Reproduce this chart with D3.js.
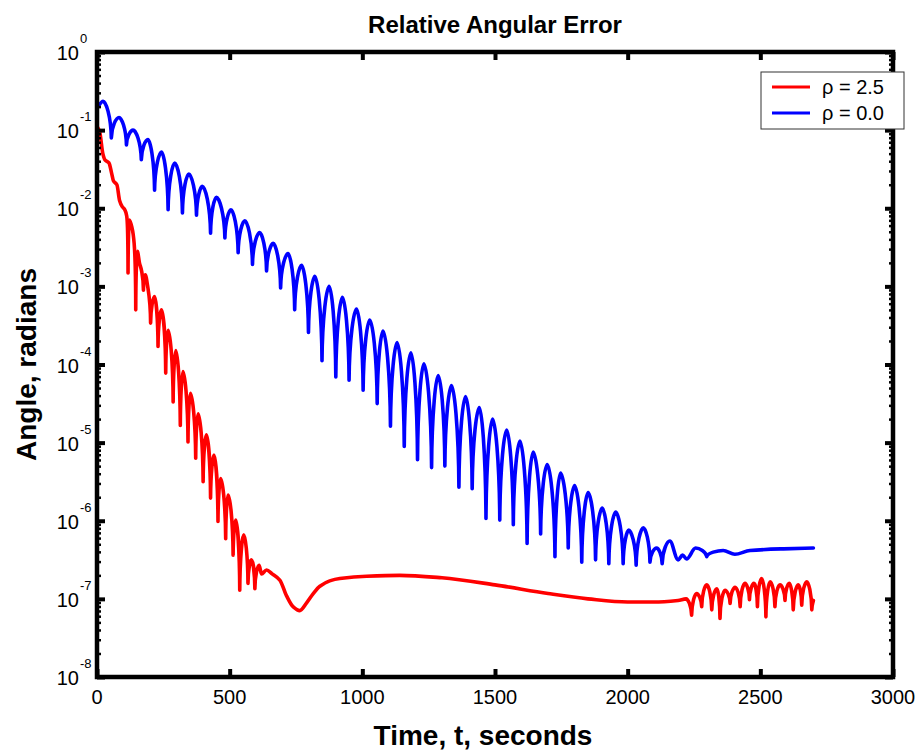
<!DOCTYPE html>
<html>
<head>
<meta charset="utf-8">
<script src="https://cdn.jsdelivr.net/npm/d3@7"></script>
<style>
body { margin: 0; background: #fff; }
text { font-family: Arial, "Liberation Sans", sans-serif; fill: #000; }
</style>
</head>
<body>
<svg id="chart" width="921" height="752"></svg>
<script>
// values
var timeTicks = [0, 500, 1000, 1500, 2000, 2500, 3000];
var decades = [1e-8, 1e-7, 1e-6, 1e-5, 1e-4, 1e-3, 1e-2, 1e-1, 1];
var seriesNames = ["\u03c1 = 2.5", "\u03c1 = 0.0"];
var seriesColors = ["#ff0000", "#0000ff"];

// rho = 2.5
var redT = [0, 10, 22, 30, 45, 55, 62, 75, 85, 95, 105, 112, 117, 122, 132, 140, 146, 152, 160, 168,
  175, 182, 190, 202, 217, 230, 243, 259, 268, 287, 297, 314, 324, 343, 352, 372, 381, 400, 412, 428,
  441, 456, 466, 485, 494, 513, 523, 538, 553, 569, 582, 595, 611, 620, 639, 660, 689, 714, 739, 764,
  790, 815, 840, 877, 915, 1016, 1141, 1300, 1500, 1700, 1850, 2000, 2100, 2190, 2220, 2241, 2260, 2279, 2298, 2317,
  2336, 2348, 2367, 2386, 2405, 2424, 2442, 2459, 2476, 2489, 2505, 2521, 2537, 2555, 2574, 2593, 2609, 2624, 2643, 2656,
  2675, 2694, 2700];
var redV = [1.12e-1, 9.55e-2, 5.01e-2, 4.17e-2, 3.80e-2, 2.82e-2, 2.24e-2, 2.00e-2, 1.26e-2, 1.05e-2, 9.55e-3, 7.94e-3, 1.48e-3, 7.08e-3, 5.62e-3, 3.55e-3, 5.01e-4, 2.82e-3, 2.00e-3, 1.58e-3,
  8.91e-4, 1.41e-3, 1.05e-3, 3.39e-4, 7.41e-4, 1.70e-4, 5.01e-4, 7.76e-5, 2.75e-4, 3.31e-5, 1.51e-4, 1.66e-5, 8.13e-5, 1.02e-5, 4.27e-5, 6.31e-6, 2.34e-5, 3.16e-6, 1.26e-5, 1.95e-6,
  6.92e-6, 9.77e-7, 3.47e-6, 5.89e-7, 2.14e-6, 3.63e-7, 1.02e-6, 1.29e-7, 6.61e-7, 1.58e-7, 3.16e-7, 1.35e-7, 2.69e-7, 2.09e-7, 2.34e-7, 2.09e-7, 1.74e-7, 1.10e-7, 7.94e-8, 7.08e-8,
  8.91e-8, 1.17e-7, 1.45e-7, 1.70e-7, 1.82e-7, 1.95e-7, 2.00e-7, 1.86e-7, 1.51e-7, 1.17e-7, 1.00e-7, 9.12e-8, 9.12e-8, 9.55e-8, 1.00e-7, 6.17e-8, 1.17e-7, 7.94e-8, 1.51e-7, 7.24e-8,
  1.35e-7, 5.62e-8, 1.29e-7, 8.71e-8, 1.41e-7, 7.94e-8, 1.58e-7, 9.77e-8, 1.58e-7, 7.94e-8, 1.82e-7, 5.89e-8, 1.66e-7, 7.94e-8, 1.51e-7, 9.55e-8, 1.58e-7, 7.24e-8, 1.51e-7, 8.32e-8,
  1.66e-7, 7.24e-8, 9.55e-8];

// rho = 0.0
var blueT = [0, 23, 54, 83, 111, 136, 167, 192, 217, 243, 268, 293, 322, 346, 375, 397, 428, 450, 482, 505,
  532, 557, 586, 613, 639, 664, 692, 720, 745, 771, 797, 821, 848, 875, 900, 925, 950, 978, 1003, 1028,
  1056, 1078, 1106, 1131, 1158, 1183, 1208, 1232, 1261, 1286, 1311, 1336, 1364, 1389, 1414, 1441, 1466, 1491, 1518, 1544,
  1569, 1594, 1621, 1644, 1672, 1697, 1726, 1747, 1776, 1800, 1827, 1851, 1879, 1904, 1929, 1955, 1983, 2004, 2032, 2059,
  2084, 2109, 2130, 2159, 2190, 2207, 2222, 2256, 2298, 2360, 2404, 2461, 2587, 2700];
var blueV = [1.91e-1, 2.34e-1, 7.94e-2, 1.45e-1, 6.46e-2, 1.00e-1, 4.17e-2, 7.59e-2, 1.70e-2, 5.25e-2, 9.55e-3, 3.80e-2, 8.71e-3, 2.75e-2, 8.13e-3, 1.91e-2, 4.79e-3, 1.38e-2, 4.17e-3, 9.55e-3,
  2.69e-3, 6.92e-3, 1.91e-3, 4.90e-3, 1.58e-3, 3.55e-3, 9.55e-4, 2.63e-3, 5.01e-4, 1.86e-3, 2.57e-4, 1.35e-3, 1.12e-4, 1.00e-3, 6.92e-5, 7.24e-4, 6.31e-5, 5.13e-4, 4.68e-5, 3.72e-4,
  3.16e-5, 2.69e-4, 1.62e-5, 1.91e-4, 8.91e-6, 1.41e-4, 6.03e-6, 1.02e-4, 4.79e-6, 7.24e-5, 5.01e-6, 5.37e-5, 2.69e-6, 3.89e-5, 2.57e-6, 2.82e-5, 1.07e-6, 2.00e-5, 1.02e-6, 1.45e-5,
  8.91e-7, 1.05e-5, 5.13e-7, 7.59e-6, 6.76e-7, 5.25e-6, 3.47e-7, 4.07e-6, 4.47e-7, 2.82e-6, 2.95e-7, 2.29e-6, 3.16e-7, 1.45e-6, 2.82e-7, 1.29e-6, 2.82e-7, 7.59e-7, 2.69e-7, 8.13e-7,
  2.95e-7, 4.47e-7, 2.82e-7, 5.50e-7, 3.16e-7, 3.63e-7, 3.24e-7, 4.47e-7, 3.47e-7, 4.17e-7, 3.72e-7, 4.17e-7, 4.37e-7, 4.47e-7];

var svg = d3.select("#chart");
var plotL = 97, plotR = 893, plotT = 52, plotB = 677;
var x = d3.scaleLinear().domain([0, 3000]).range([plotL, plotR]);
var y = d3.scaleLog().domain([1e-8, 1]).range([plotB, plotT]);

// rounded crests, sharp downward spikes (like |cos| on a log axis)
function cuspCurve(context) {
  var pts = [];
  return {
    areaStart: function() {}, areaEnd: function() {},
    lineStart: function() { pts = []; },
    point: function(px, py) { pts.push([+px, +py]); },
    lineEnd: function() {
      var n = pts.length;
      if (n < 2) return;
      var sec = function(i) { return (pts[i + 1][1] - pts[i][1]) / (pts[i + 1][0] - pts[i][0]); };
      var cusp = pts.map(function(p, i) {
        return i > 0 && i < n - 1 && p[1] - pts[i - 1][1] > 6 && p[1] - pts[i + 1][1] > 6;
      });
      var slope = pts.map(function(p, i) {
        if (i === 0) return sec(0);
        if (i === n - 1) return sec(n - 2);
        var a = sec(i - 1), b = sec(i);
        return a * b <= 0 ? 0 : 2 * a * b / (a + b);
      });
      context.moveTo(pts[0][0], pts[0][1]);
      for (var i = 0; i < n - 1; i++) {
        var p = pts[i], q = pts[i + 1], dx = q[0] - p[0];
        var c1 = cusp[i] ? [p[0] + 0.05 * dx, p[1] + 0.6 * (q[1] - p[1])] : [p[0] + dx / 3, p[1] + slope[i] * dx / 3];
        var c2 = cusp[i + 1] ? [q[0] - 0.05 * dx, q[1] + 0.6 * (p[1] - q[1])] : [q[0] - dx / 3, q[1] - slope[i + 1] * dx / 3];
        context.bezierCurveTo(c1[0], c1[1], c2[0], c2[1], q[0], q[1]);
      }
    }
  };
}

var line = d3.line()
  .x(function(d) { return x(d[0]); })
  .y(function(d) { return y(d[1]); })
  .curve(cuspCurve);

var series = [d3.zip(redT, redV), d3.zip(blueT, blueV)];

svg.append("g").selectAll("path")
  .data(series)
  .enter().append("path")
  .attr("d", line)
  .attr("fill", "none")
  .attr("stroke", function(d, i) { return seriesColors[i]; })
  .attr("stroke-width", 3.6)
  .attr("stroke-linejoin", "round")
  .attr("stroke-linecap", "round");

// ticks, all pointing inward
var minor = [];
decades.slice(0, -1).forEach(function(d) {
  for (var k = 2; k < 10; k++) minor.push(d * k);
});

function styleAxis(g, w) {
  g.select(".domain").remove();
  g.selectAll(".tick line").attr("stroke", "#000").attr("stroke-width", w);
  g.selectAll(".tick text").remove();
}

svg.append("g").attr("transform", "translate(0," + plotB + ")")
  .call(d3.axisBottom(x).tickValues(timeTicks).tickSize(-8)).call(styleAxis, 4);
svg.append("g").attr("transform", "translate(0," + plotT + ")")
  .call(d3.axisTop(x).tickValues(timeTicks).tickSize(-8)).call(styleAxis, 4);
svg.append("g").attr("transform", "translate(" + plotL + ",0)")
  .call(d3.axisLeft(y).tickValues(decades).tickSize(-8)).call(styleAxis, 4);
svg.append("g").attr("transform", "translate(" + plotR + ",0)")
  .call(d3.axisRight(y).tickValues(decades).tickSize(-8)).call(styleAxis, 4);
svg.append("g").attr("transform", "translate(" + plotL + ",0)")
  .call(d3.axisLeft(y).tickValues(minor).tickSize(-4)).call(styleAxis, 2.5);
svg.append("g").attr("transform", "translate(" + plotR + ",0)")
  .call(d3.axisRight(y).tickValues(minor).tickSize(-4)).call(styleAxis, 2.5);

svg.append("rect")
  .attr("x", plotL).attr("y", plotT)
  .attr("width", plotR - plotL).attr("height", plotB - plotT)
  .attr("fill", "none").attr("stroke", "#000").attr("stroke-width", 4.5);

// tick labels
svg.append("g").selectAll("text")
  .data(timeTicks)
  .enter().append("text")
  .attr("x", function(d) { return x(d); })
  .attr("y", 704)
  .attr("text-anchor", "middle")
  .style("font-size", "20px")
  .text(function(d) { return d; });

var ylab = svg.append("g").selectAll("g")
  .data(decades)
  .enter().append("g");
ylab.append("text")
  .attr("x", 79)
  .attr("y", function(d) { return y(d) + 8; })
  .attr("text-anchor", "end")
  .style("font-size", "20px")
  .text("10");
ylab.append("text")
  .attr("x", 80)
  .attr("y", function(d) { return y(d) - 9; })
  .style("font-size", "13px")
  .text(function(d) { return Math.round(Math.log10(d)); });

// titles
svg.append("text")
  .attr("x", (plotL + plotR) / 2).attr("y", 33)
  .attr("text-anchor", "middle")
  .style("font-size", "24px").style("font-weight", "bold")
  .text("Relative Angular Error");
svg.append("text")
  .attr("x", (plotL + plotR) / 2 - 12).attr("y", 745)
  .attr("text-anchor", "middle")
  .style("font-size", "28px").style("font-weight", "bold")
  .text("Time, t, seconds");
svg.append("text")
  .attr("transform", "translate(36," + ((plotT + plotB) / 2) + ") rotate(-90)")
  .attr("text-anchor", "middle")
  .style("font-size", "28px").style("font-weight", "bold")
  .text("Angle, radians");

// legend
var legend = svg.append("g");
legend.append("rect")
  .attr("x", 761).attr("y", 72).attr("width", 143).attr("height", 57)
  .attr("fill", "#fff").attr("stroke", "#333").attr("stroke-width", 1);
var items = legend.selectAll("g.item")
  .data(seriesNames)
  .enter().append("g").attr("class", "item")
  .attr("transform", function(d, i) { return "translate(0," + (87 + i * 26) + ")"; });
items.append("line")
  .attr("x1", 772).attr("x2", 810)
  .attr("stroke", function(d, i) { return seriesColors[i]; })
  .attr("stroke-width", 3);
items.append("text")
  .attr("x", 822).attr("y", 7)
  .style("font-size", "20px")
  .text(function(d) { return d; });
</script>
</body>
</html>
